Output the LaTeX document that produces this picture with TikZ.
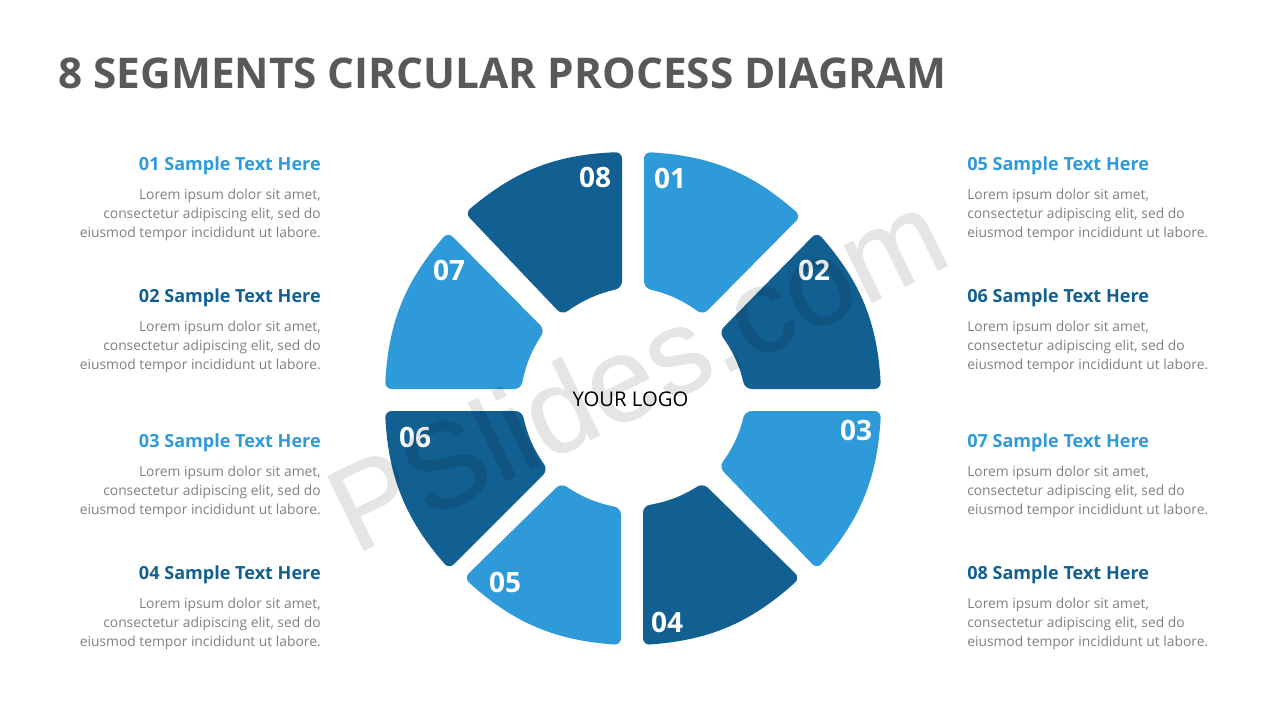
\documentclass[tikz,border=0pt]{standalone}
\usepackage{fontspec}
\setmainfont{Open Sans}
\newfontfamily\markfont[FakeBold=0.7]{Liberation Sans}
\usetikzlibrary{positioning}
\definecolor{lightseg}{HTML}{2E9AD9}
\definecolor{darkseg}{HTML}{125F91}
\definecolor{titlegray}{HTML}{595959}
\definecolor{bodygray}{HTML}{7F7F7F}
\tikzstyle{seg} = [rounded corners=5pt, draw=none]
\tikzstyle{num} = [text=white, font=\fontsize{21}{21}\selectfont\bfseries, inner sep=0pt]
\tikzstyle{head} = [font=\fontsize{13.55}{16}\selectfont\bfseries, inner sep=0pt]
\tikzstyle{bodyleft} = [text=bodygray, font=\fontsize{10.37}{14.25}\selectfont, align=right, anchor=east, inner sep=0pt]
\tikzstyle{bodyright} = [text=bodygray, font=\fontsize{10.37}{14.25}\selectfont, align=left, anchor=west, inner sep=0pt]
\newcommand{\loremleft}{Lorem ipsum dolor sit amet,\\consectetur adipiscing elit, sed do\\eiusmod tempor incididunt ut labore.}
\newcommand{\outerarc}{to[bend left=19]}
\newcommand{\innerarc}{to[bend right=11]}
\begin{document}
\begin{tikzpicture}[x=0.75pt,y=-0.75pt]
    \useasboundingbox (0,0) rectangle (1280,720);
    \node [anchor=west, text=titlegray, inner sep=0pt, font=\fontsize{31.75}{36}\selectfont\bfseries] (title) at (58,73) {8 SEGMENTS CIRCULAR PROCESS DIAGRAM};
    % ring, clockwise from the top right
    \fill [seg, lightseg] (644,152) \outerarc (801,216) -- (703,315) \innerarc (644,288) -- cycle;
    \fill [seg, darkseg] (817,232) \outerarc (881,389) -- (745,389) \innerarc (719,332) -- cycle;
    \fill [seg, lightseg] (881,411) \outerarc (817,569) -- (719,467) \innerarc (745,411) -- cycle;
    \fill [seg, darkseg] (800,578) \outerarc (643,645) -- (643,506) \innerarc (703,483) -- cycle;
    \fill [seg, lightseg] (621,645) \outerarc (464,578) -- (561,483) \innerarc (621,508) -- cycle;
    \fill [seg, darkseg] (449,569) \outerarc (385,411) -- (522,411) \innerarc (548,470) -- cycle;
    \fill [seg, lightseg] (385,389) \outerarc (448,232) -- (545,330) \innerarc (521,389) -- cycle;
    \fill [seg, darkseg] (465,213) \outerarc (622,152) -- (622,288) \innerarc (562,315) -- cycle;
    % segment numbers
    \node [num] (n01) at (670,178) {01};
    \node [num] (n02) at (814,270) {02};
    \node [num] (n03) at (856,430) {03};
    \node [num] (n04) at (667,622) {04};
    \node [num] (n05) at (505,582) {05};
    \node [num] (n06) at (415,437) {06};
    \node [num] (n07) at (449,270) {07};
    \node [num] (n08) at (595,177) {08};
    \node [text=black, inner sep=0pt, font=\fontsize{15.2}{18}\selectfont] (logo) at (630.5,399) {YOUR LOGO};
    % left column
    \node [head, anchor=east, text=lightseg] (h01) at (321,166) {01 Sample Text Here};
    \node [bodyleft] (t01) at (321,215) {\loremleft};
    \node [head, anchor=east, text=darkseg] (h02) at (321,298) {02 Sample Text Here};
    \node [bodyleft] (t02) at (321,347) {\loremleft};
    \node [head, anchor=east, text=lightseg] (h03) at (321,443) {03 Sample Text Here};
    \node [bodyleft] (t03) at (321,492) {\loremleft};
    \node [head, anchor=east, text=darkseg] (h04) at (321,575) {04 Sample Text Here};
    \node [bodyleft] (t04) at (321,624) {\loremleft};
    % right column
    \node [head, anchor=west, text=lightseg] (h05) at (967,166) {05 Sample Text Here};
    \node [bodyright] (t05) at (967,215) {\loremleft};
    \node [head, anchor=west, text=darkseg] (h06) at (967,298) {06 Sample Text Here};
    \node [bodyright] (t06) at (967,347) {\loremleft};
    \node [head, anchor=west, text=lightseg] (h07) at (967,443) {07 Sample Text Here};
    \node [bodyright] (t07) at (967,492) {\loremleft};
    \node [head, anchor=west, text=darkseg] (h08) at (967,575) {08 Sample Text Here};
    \node [bodyright] (t08) at (967,624) {\loremleft};
    % watermark
    \begin{scope}[transparency group, opacity=0.1]
    \node [rotate=26, text=black, inner sep=0pt, font=\fontsize{90}{90}\selectfont\markfont] (mark) at (636,370) {PSlides.com};
    \end{scope}
\end{tikzpicture}
\end{document}
